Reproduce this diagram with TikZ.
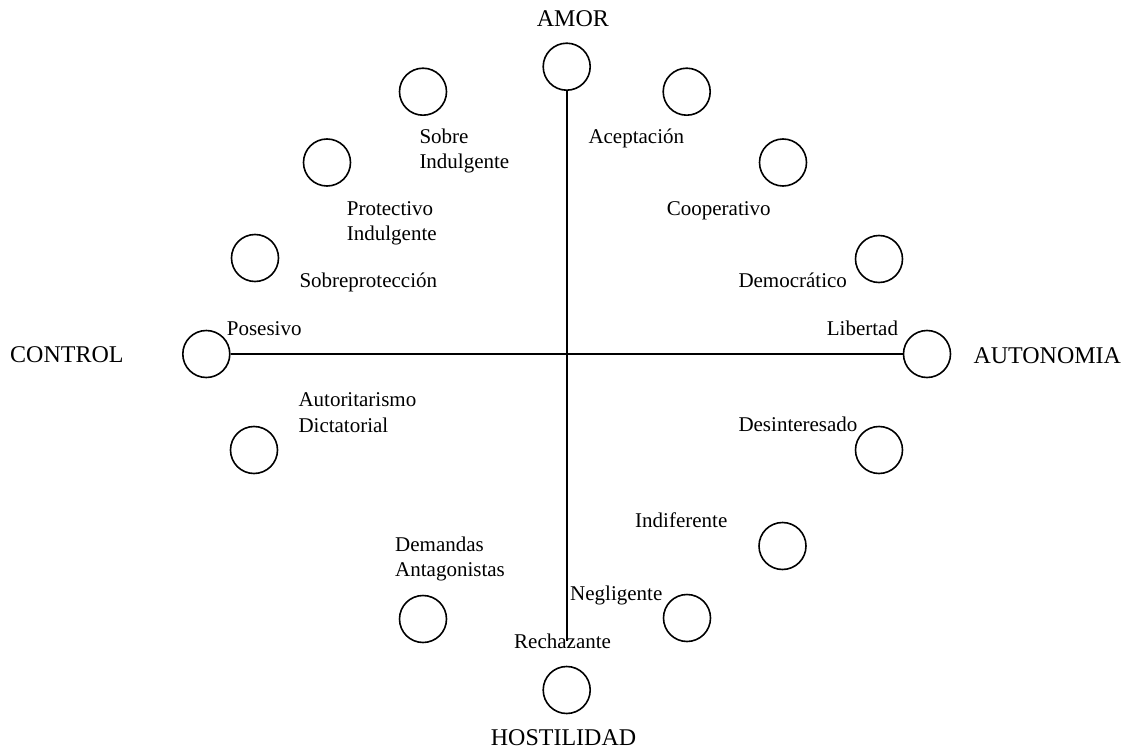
\documentclass[tikz,border=0pt]{standalone}
\usepackage{fontspec}
\setmainfont{Liberation Serif}
\begin{document}
\begin{tikzpicture}[x=1pt,y=-1pt,
  ring/.style={circle,draw=black,line width=1.6pt,minimum size=47pt,inner sep=0pt,fill=white},
  lbl/.style={anchor=base west,inner sep=0pt,font=\fontsize{21}{25}\selectfont},
  axis/.style={anchor=base west,inner sep=0pt,font=\fontsize{24}{28}\selectfont},
  axisline/.style={line width=1.6pt}]
\useasboundingbox (0,0) rectangle (1122,749);
% axes lines drawn first
\coordinate (amorc) at (566.7,66.7);
\coordinate (rechend) at (566.7,641);
% circles
\node[ring] (amor) at (566.7,66.7) {};
\node[ring] (sobreind) at (423,91.7) {};
\node[ring] (acept) at (686.7,91.7) {};
\node[ring] (protind) at (327,162.5) {};
\node[ring] (coop) at (783,162.5) {};
\node[ring] (sobreprot) at (255,258) {};
\node[ring] (democ) at (879,259) {};
\node[ring] (control) at (206.3,354) {};
\node[ring] (libertad) at (927,354) {};
\node[ring] (autorit) at (254,450) {};
\node[ring] (desint) at (879,450) {};
\node[ring] (indif) at (782.5,546) {};
\node[ring] (demand) at (423,619) {};
\node[ring] (neglig) at (687,618) {};
\node[ring] (hostil) at (566.7,690) {};
\draw[axisline] (amor.south) -- (rechend);
\draw[axisline] (control.east) -- (libertad.west);
% axis labels
\node[axis] (tamor) at (536.7,26.7) {AMOR};
\node[axis] (tcontrol) at (10,362.7) {CONTROL};
\node[axis] (tauto) at (973.3,363.3) {AUTONOMIA};
\node[axis] (thost) at (490.7,745) {HOSTILIDAD};
% labels
\node[lbl] (tsobre1) at (419.3,143.3) {Sobre};
\node[lbl] (tsobre2) at (419.3,168.3) {Indulgente};
\node[lbl] (tacept) at (588.3,143.3) {Aceptación};
\node[lbl] (tprot1) at (346.7,215) {Protectivo};
\node[lbl] (tprot2) at (346.7,240.3) {Indulgente};
\node[lbl] (tcoop) at (666.7,215) {Cooperativo};
\node[lbl] (tsobreprot) at (299.3,287.7) {Sobreprotección};
\node[lbl] (tdemoc) at (738.3,287.3) {Democrático};
\node[lbl] (tposes) at (226.7,335.7) {Posesivo};
\node[lbl] (tlib) at (826.7,335.7) {Libertad};
\node[lbl] (taut1) at (298.3,406.7) {Autoritarismo};
\node[lbl] (taut2) at (298.3,432.3) {Dictatorial};
\node[lbl] (tdesint) at (738.3,431.7) {Desinteresado};
\node[lbl] (tindif) at (635,527.3) {Indiferente};
\node[lbl] (tdem1) at (395,551.7) {Demandas};
\node[lbl] (tdem2) at (395,576.5) {Antagonistas};
\node[lbl] (tneg) at (570,600) {Negligente};
\node[lbl] (trech) at (514,648.3) {Rechazante};
\end{tikzpicture}
\end{document}
